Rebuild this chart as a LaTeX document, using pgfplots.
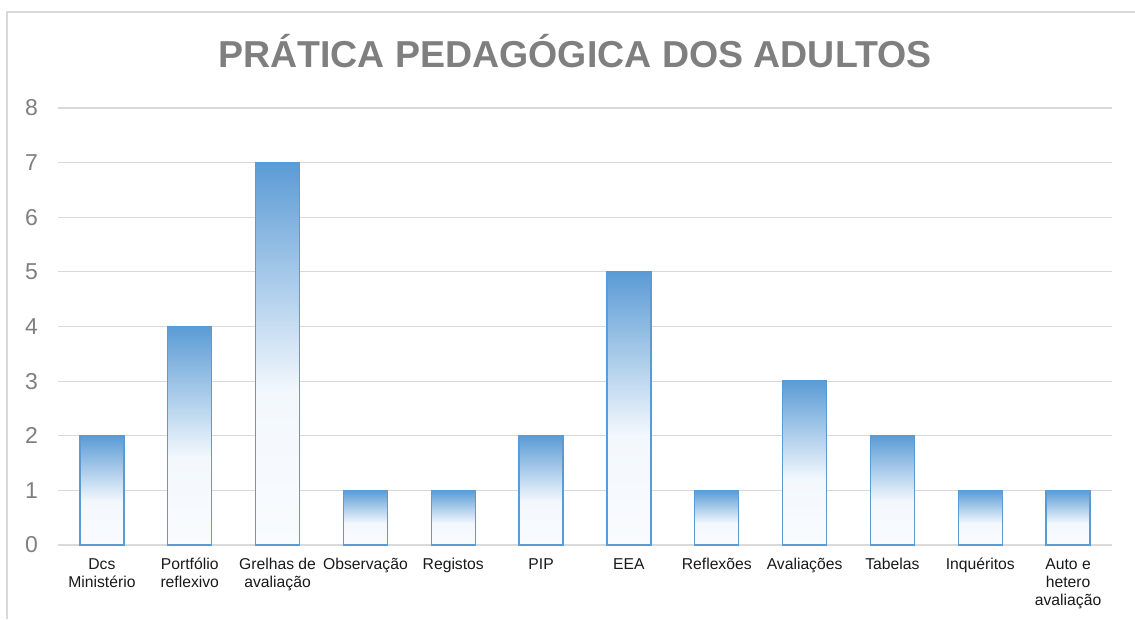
\documentclass[border=0pt]{standalone}
\usepackage{pgfplots}
\pgfplotsset{compat=1.18}
\usepackage{fontspec}
\setmainfont{Liberation Sans}

\definecolor{bartop}{HTML}{5B9BD5}
\definecolor{barmid}{HTML}{F3F8FD}
\definecolor{barbot}{HTML}{F9FBFE}
\definecolor{gridc}{HTML}{D9D9D9}
\definecolor{ticktxt}{HTML}{7F7F7F}
\definecolor{titletxt}{HTML}{7F7F7F}

% bar gradient: path spans 25bp (bottom) to 75bp (top)
\pgfdeclareverticalshading{barshade}{100bp}{color(0bp)=(barbot); color(25bp)=(barbot); color(45bp)=(barmid); color(75bp)=(bartop); color(100bp)=(bartop)}

\tikzset{gradbar/.style={ybar, draw=bartop, line width=1.4pt, shading=barshade}}

\begin{document}
\begin{tikzpicture}[x=1pt,y=1pt]
% chart frame (only left and top edges are inside the crop)
\draw[gridc, line width=1.2pt] (7,0) -- (7,607) -- (1135,607);

\node[anchor=base, font=\fontsize{37.5}{44}\selectfont\bfseries, text=titletxt]
  at (575,551) {PRÁTICA PEDAGÓGICA DOS ADULTOS};

\begin{axis}[
  at={(58pt,74pt)}, anchor=south west,
  scale only axis,
  width=1054pt, height=437pt,
  xmin=-0.5, xmax=11.5,
  ymin=0, ymax=8,
  ytick={0,1,...,8},
  xtick={0,1,...,11},
  xticklabels={Dcs\\Ministério, Portfólio\\reflexivo, Grelhas de\\avaliação, Observação, Registos, PIP, EEA, Reflexões, Avaliações, Tabelas, Inquéritos, Auto e\\hetero\\avaliação},
  axis line style={draw=none},
  major tick length=0pt,
  ymajorgrids,
  major grid style={gridc, line width=1.2pt},
  yticklabel style={anchor=east, inner sep=0pt, xshift=-20pt, text=ticktxt,
    font=\fontsize{23}{27}\selectfont},
  xticklabel style={anchor=north, inner sep=0pt, yshift=-13pt, align=center,
    font=\fontsize{15.7}{18.2}\selectfont, text=black!90},
  /pgf/number format/assume math mode=true,
  ybar, bar width=44pt, bar shift=0pt,
]
% one plot per bar so every bar gets its own gradient
\addplot[gradbar] coordinates {(0,2)};
\addplot[gradbar] coordinates {(1,4)};
\addplot[gradbar] coordinates {(2,7)};
\addplot[gradbar] coordinates {(3,1)};
\addplot[gradbar] coordinates {(4,1)};
\addplot[gradbar] coordinates {(5,2)};
\addplot[gradbar] coordinates {(6,5)};
\addplot[gradbar] coordinates {(7,1)};
\addplot[gradbar] coordinates {(8,3)};
\addplot[gradbar] coordinates {(9,2)};
\addplot[gradbar] coordinates {(10,1)};
\addplot[gradbar] coordinates {(11,1)};
\end{axis}
\pgfresetboundingbox
\path (0,0) rectangle (1135,619);
\end{tikzpicture}
\end{document}
